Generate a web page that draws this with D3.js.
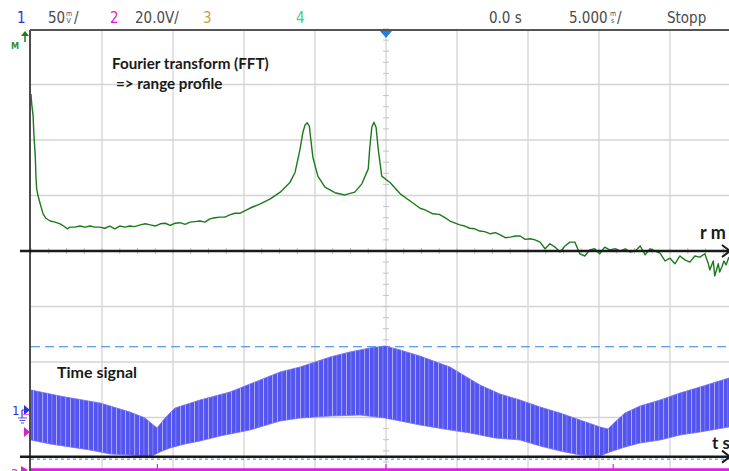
<!DOCTYPE html>
<html>
<head>
<meta charset="utf-8">
<script src="https://cdn.jsdelivr.net/npm/d3@7"></script>
<style>
body { margin: 0; background: #fff; }
svg { display: block; }
.hdr { font-family: "DejaVu Sans Condensed", "DejaVu Sans", sans-serif; font-size: 15px; fill: #4a4a4a; }
.unit { font-family: "DejaVu Sans Condensed", "DejaVu Sans", sans-serif; font-size: 7px; fill: #4a4a4a; }
.note { font-family: Lato, "Open Sans", sans-serif; font-weight: bold; fill: #1a1a1a; }
</style>
</head>
<body>
<svg width="729" height="471"></svg>
<script>
// FFT trace: x in divisions, amplitude in divisions above the centre line
var fftBin = [0,0.01,0.03,0.04,0.06,0.07,0.08,0.10,0.13,0.17,
  0.21,0.27,0.34,0.41,0.46,0.51,0.55,0.62,0.69,0.76,
  0.83,0.90,0.97,1.04,1.11,1.18,1.25,1.32,1.39,1.46,
  1.54,1.61,1.68,1.75,1.82,1.89,1.96,2.03,2.10,2.17,
  2.24,2.31,2.38,2.45,2.52,2.59,2.66,2.73,2.80,2.87,
  2.94,3.08,3.23,3.37,3.51,3.65,3.72,3.79,3.83,3.86,
  3.89,3.92,3.94,3.97,4.04,4.14,4.28,4.42,4.56,4.66,
  4.75,4.77,4.80,4.83,4.86,4.89,4.94,5.06,5.20,5.34,
  5.48,5.55,5.66,5.75,5.83,5.90,6.04,6.11,6.18,6.25,
  6.32,6.39,6.47,6.54,6.61,6.68,6.75,6.82,6.89,6.96,
  7.03,7.10,7.17,7.24,7.31,7.38,7.45,7.52,7.59,7.66,
  7.73,7.80,7.87,7.94,8.01,8.08,8.15,8.23,8.30,8.37,
  8.44,8.51,8.58,8.65,8.72,8.79,8.86,8.93,9.00,9.07,
  9.14,9.21,9.28,9.35,9.42,9.49,9.54,9.56,9.61,9.63,
  9.68,9.70,9.73,9.76,9.79,9.83];
var fftAmp = [2.83,2.65,2.43,2.11,1.71,1.33,1.12,0.99,0.85,0.67,
  0.59,0.54,0.52,0.49,0.45,0.40,0.43,0.43,0.45,0.43,
  0.45,0.43,0.43,0.41,0.45,0.40,0.45,0.43,0.45,0.44,
  0.47,0.49,0.47,0.45,0.49,0.50,0.46,0.50,0.51,0.48,
  0.52,0.53,0.54,0.52,0.58,0.60,0.61,0.61,0.65,0.68,
  0.68,0.77,0.85,0.94,1.06,1.24,1.42,1.84,2.14,2.27,
  2.31,2.25,2.02,1.69,1.35,1.15,1.05,1.01,1.06,1.21,
  1.48,1.84,2.23,2.32,2.23,1.84,1.35,1.23,1.03,0.90,
  0.77,0.74,0.67,0.66,0.60,0.54,0.47,0.45,0.41,0.40,
  0.36,0.35,0.31,0.33,0.29,0.24,0.25,0.27,0.27,0.21,
  0.22,0.20,0.16,0.04,0.13,0.07,-0.02,0.09,0.16,0.16,
  -0.05,-0.09,0.02,0.04,-0.05,0.07,0.02,0.04,0.00,0.04,
  -0.02,0.00,0.09,-0.07,0.04,0.00,-0.04,-0.18,-0.13,-0.23,
  -0.09,-0.16,-0.20,-0.09,-0.11,-0.05,-0.23,-0.34,-0.18,-0.45,
  -0.23,-0.38,-0.29,-0.18,-0.25,-0.11];

// time signal (channel 1, mV) read as upper and lower envelope, time in ms
var upperT = [-25,-22.96,-20.14,-18.03,-16.97,-16.13,-15.56,-14.86,-13.10,-10.99,-9.58,-7.46,-6.06,-3.94,-2.54,-1.13,-0.07,0.99,
  2.39,4.51,6.62,8.03,9.44,10.85,12.25,13.66,15.07,15.63,16.13,16.83,17.89,19.30,20.70,22.11,24.15,25];
var upperMv = [18.0,12.6,6.3,-1.8,-7.2,-16.2,-7.2,1.8,9.0,16.2,23.4,34.2,38.7,47.7,52.3,55.9,57.7,54.1,
  48.6,38.7,22.5,14.4,9.0,2.7,-2.7,-9.0,-15.3,-17.1,-10.8,-2.7,3.6,9.0,15.3,20.7,28.8,30.5];
var lowerT = [-25,-23.66,-22.25,-20.85,-19.44,-18.03,-16.62,-15.92,-15.21,-14.15,-13.10,-11.69,-9.58,-7.46,-6.06,-3.94,-1.83,-0.07,
  0.99,2.39,4.51,5.92,7.68,9.44,10.85,12.25,13.66,15.07,15.77,16.83,17.89,19.30,20.70,22.11,24.15,25];
var lowerMv = [-27.0,-30.6,-33.3,-36.0,-39.6,-40.5,-42.3,-37.8,-34.2,-30.6,-27.9,-23.4,-18.0,-9.9,-7.2,-5.4,-4.5,-7.2,
  -9.9,-13.5,-18.0,-20.7,-25.2,-27.0,-32.4,-36.9,-40.5,-41.4,-37.8,-33.3,-29.7,-27.0,-22.5,-19.8,-15.3,-14.0];

// channel 2 edges (ms), trigger level and axis levels
var ch2Edges = [-16.1, 0, 16.0];
var triggerMv = 57;
var tAxisMv = -42;
var ch1OffsetDiv = -2.865;   // ch1 ground below centre
var ch2OffsetDiv = -3.93;
var mvPerDiv = 50;

var svg = d3.select("svg"),
    W = +svg.attr("width"),
    H = +svg.attr("height");

var pLeft = 31, pRight = 741, pTop = 29, pBottom = 473;

var xDiv = d3.scaleLinear().domain([0, 10]).range([pLeft, pRight]);
var yDiv = d3.scaleLinear().domain([-4, 4]).range([pBottom, pTop]);
var xTime = d3.scaleLinear().domain([-25, 25]).range([pLeft, pRight]);
var yMv = d3.scaleLinear()
    .domain([(-4 - ch1OffsetDiv) * mvPerDiv, (4 - ch1OffsetDiv) * mvPerDiv])
    .range([pBottom, pTop]);

var defs = svg.append("defs");
defs.append("clipPath").attr("id", "plot")
  .append("rect").attr("x", pLeft).attr("y", pTop).attr("width", pRight - pLeft).attr("height", bottomH());
function bottomH() { return pBottom - pTop; }

// stripe texture for the dense ripple of the time signal
var pat = defs.append("pattern").attr("id", "ripple")
    .attr("patternUnits", "userSpaceOnUse").attr("width", 23).attr("height", 20);
pat.append("rect").attr("width", 23).attr("height", 20).attr("fill", "#5454f0");
[[1, 1, "#a8a8f7"], [5.5, 0.8, "#8a8af3"], [10, 1, "#b0b0f8"], [14.5, 0.7, "#9090f4"], [19, 1.1, "#a0a0f6"]]
  .forEach(function(s) {
    pat.append("rect").attr("x", s[0]).attr("width", s[1]).attr("height", 20).attr("fill", s[2]);
  });

svg.append("rect").attr("width", W).attr("height", H).attr("fill", "#fff");

// grid
var grid = svg.append("g").attr("stroke", "#d4d4d4").attr("stroke-width", 1.3);
grid.selectAll("line.v").data(d3.range(1, 10)).enter().append("line")
    .attr("x1", function(d) { return xDiv(d); }).attr("x2", function(d) { return xDiv(d); })
    .attr("y1", pTop).attr("y2", pBottom);
grid.selectAll("line.h").data(d3.range(-3, 4)).enter().append("line")
    .attr("x1", pLeft).attr("x2", pRight)
    .attr("y1", function(d) { return yDiv(d); }).attr("y2", function(d) { return yDiv(d); });

// centre ticks
var ticks = svg.append("g").attr("stroke", "#c4c4c4").attr("stroke-width", 1);
ticks.selectAll("line.vt").data(d3.range(-4, 4.01, 0.2)).enter().append("line")
    .attr("x1", xDiv(5) - 3).attr("x2", xDiv(5) + 3)
    .attr("y1", function(d) { return yDiv(d); }).attr("y2", function(d) { return yDiv(d); });
ticks.selectAll("line.ht").data(d3.range(0, 10.01, 0.25)).enter().append("line")
    .attr("x1", function(d) { return xDiv(d); }).attr("x2", function(d) { return xDiv(d); })
    .attr("y1", yDiv(0) - 3).attr("y2", yDiv(0) + 3);

// trigger level
svg.append("line")
    .attr("x1", pLeft).attr("x2", W)
    .attr("y1", yMv(triggerMv)).attr("y2", yMv(triggerMv))
    .attr("stroke", "#2c82e6").attr("stroke-width", 1.2).attr("stroke-dasharray", "9,5");

var plot = svg.append("g").attr("clip-path", "url(#plot)");

// time signal band
var pts = d3.zip(upperT, upperMv).concat(d3.zip(lowerT, lowerMv).reverse());
var band = d3.line()
    .x(function(d) { return xTime(d[0]); })
    .y(function(d) { return yMv(d[1]); });
plot.append("path")
    .attr("d", band(pts) + "Z")
    .attr("fill", "url(#ripple)")
    .attr("stroke", "#7070f3").attr("stroke-width", 0.8);

// FFT trace
var fftLine = d3.line()
    .x(function(d) { return xDiv(d[0]); })
    .y(function(d) { return yDiv(d[1]); });
plot.append("path")
    .attr("d", fftLine(d3.zip(fftBin, fftAmp)))
    .attr("fill", "none").attr("stroke", "#1c7a1c").attr("stroke-width", 1.4)
    .attr("stroke-linejoin", "round");

// channel 2
var ch2y = yDiv(ch2OffsetDiv);
svg.append("line").attr("x1", pLeft).attr("x2", W).attr("y1", ch2y + 1).attr("y2", ch2y + 1)
    .attr("stroke", "#e01fe0").attr("stroke-width", 3.5);
svg.selectAll("line.edge").data(ch2Edges).enter().append("line")
    .attr("x1", function(d) { return xTime(d); }).attr("x2", function(d) { return xTime(d); })
    .attr("y1", ch2y - 5).attr("y2", ch2y)
    .attr("stroke", "#e01fe0").attr("stroke-width", 1.2);

// annotation axes r and t
function axisArrow(y) {
  svg.append("line").attr("x1", 20).attr("x2", W).attr("y1", y).attr("y2", y)
      .attr("stroke", "#1a1a1a").attr("stroke-width", 2.5);
  svg.append("path").attr("d", "M" + (W - 7) + "," + (y - 6) + "L" + (W + 1) + "," + y + "L" + (W - 7) + "," + (y + 6))
      .attr("fill", "none").attr("stroke", "#1a1a1a").attr("stroke-width", 2);
}
axisArrow(yDiv(0));
svg.append("line").attr("x1", pLeft).attr("x2", W)
    .attr("y1", yMv(tAxisMv) + 2.5).attr("y2", yMv(tAxisMv) + 2.5)
    .attr("stroke", "#2c82e6").attr("stroke-width", 1).attr("stroke-dasharray", "3,3");
axisArrow(yMv(tAxisMv));

svg.append("text").attr("class", "note").attr("x", 700).attr("y", yDiv(0) - 12)
    .style("font-size", "18px").text("r m");
svg.append("text").attr("class", "note").attr("x", 712).attr("y", yMv(tAxisMv) - 8)
    .style("font-size", "17px").text("t s");

// frame
svg.append("line").attr("x1", 30).attr("x2", 30).attr("y1", 30).attr("y2", H)
    .attr("stroke", "#111").attr("stroke-width", 1.5);
svg.append("line").attr("x1", 30).attr("x2", W).attr("y1", 30).attr("y2", 30)
    .attr("stroke", "#555").attr("stroke-width", 2);

// trigger position marker
var tx = xTime(0);
svg.append("path").attr("d", "M" + (tx - 6) + ",31L" + (tx + 6) + ",31L" + tx + ",38Z").attr("fill", "#1f7fe6");

// math marker
svg.append("text").attr("x", 11).attr("y", 49).attr("fill", "#2d8f2d")
    .style("font-family", "DejaVu Sans Condensed, sans-serif").style("font-size", "9px").style("font-weight", "bold").text("M");
svg.append("line").attr("x1", 25).attr("x2", 25).attr("y1", 34).attr("y2", 42).attr("stroke", "#1d7d1d").attr("stroke-width", 1.5);
svg.append("path").attr("d", "M21,36L25,31L29,36Z").attr("fill", "#1d7d1d");

// channel 1 marker
var g1 = yMv(0);
svg.append("text").attr("x", 12).attr("y", g1 + 5).attr("fill", "#2f2fe8")
    .style("font-family", "DejaVu Sans Condensed, sans-serif").style("font-size", "13px").text("1");
svg.append("path").attr("d", "M24," + (g1 - 5) + "L30," + g1 + "L24," + (g1 + 5) + "Z").attr("fill", "#2f2fe8");
svg.append("path").attr("d", "M22," + g1 + "H25M22," + g1 + "V" + (g1 + 8))
    .attr("stroke", "#2f2fe8").attr("stroke-width", 1.2).attr("fill", "none");
svg.append("path").attr("d", "M18," + (g1 + 8) + "H27M19.5," + (g1 + 10.5) + "H25.5M21," + (g1 + 13) + "H24")
    .attr("stroke", "#5050e8").attr("stroke-width", 1.1);
svg.append("line").attr("x1", 21).attr("x2", 29).attr("y1", g1 + 4.5).attr("y2", g1 + 4.5)
    .attr("stroke", "#e060e0").attr("stroke-width", 1);
svg.append("path").attr("d", "M24,427L30,432L24,437Z").attr("fill", "#d820d8");

// channel 2 marker
svg.append("text").attr("x", 11).attr("y", ch2y + 9).attr("fill", "#d820d8")
    .style("font-family", "DejaVu Sans Condensed, sans-serif").style("font-size", "13px").text("2");
svg.append("path").attr("d", "M21," + (ch2y - 3) + "L28," + (ch2y + 1) + "L21," + (ch2y + 5) + "Z").attr("fill", "#d820d8");

// header
var hdr = svg.append("g");
hdr.append("text").attr("class", "hdr").attr("x", 17).attr("y", 23).style("fill", "#2f2fe8").text("1");
hdr.append("text").attr("class", "hdr").attr("x", 48).attr("y", 23).text("50");
hdr.append("text").attr("class", "unit").attr("x", 66).attr("y", 16).text("m");
hdr.append("text").attr("class", "unit").attr("x", 66.5).attr("y", 23).text("V");
hdr.append("text").attr("class", "hdr").attr("x", 74).attr("y", 23).text("/");
hdr.append("text").attr("class", "hdr").attr("x", 110).attr("y", 23).style("fill", "#d820d8").text("2");
hdr.append("text").attr("class", "hdr").attr("x", 135).attr("y", 23).text("20.0V/");
hdr.append("text").attr("class", "hdr").attr("x", 203).attr("y", 23).style("fill", "#c8a040").text("3");
hdr.append("text").attr("class", "hdr").attr("x", 296).attr("y", 23).style("fill", "#3ed27c").text("4");
hdr.append("text").attr("class", "hdr").attr("x", 489).attr("y", 23).text("0.0 s");
hdr.append("text").attr("class", "hdr").attr("x", 569).attr("y", 23).text("5.000");
hdr.append("text").attr("class", "unit").attr("x", 610).attr("y", 16).text("m");
hdr.append("text").attr("class", "unit").attr("x", 611).attr("y", 23).text("s");
hdr.append("text").attr("class", "hdr").attr("x", 617).attr("y", 23).text("/");
hdr.append("text").attr("class", "hdr").attr("x", 667).attr("y", 23).text("Stopp");

// annotations
svg.append("text").attr("class", "note").attr("x", 112).attr("y", 69)
    .style("font-size", "15.2px").text("Fourier transform (FFT)");
svg.append("text").attr("class", "note").attr("x", 116).attr("y", 89)
    .style("font-size", "15.2px").text("=> range profile");
svg.append("text").attr("class", "note").attr("x", 57).attr("y", 378)
    .style("font-size", "16px").text("Time signal");
</script>
</body>
</html>
